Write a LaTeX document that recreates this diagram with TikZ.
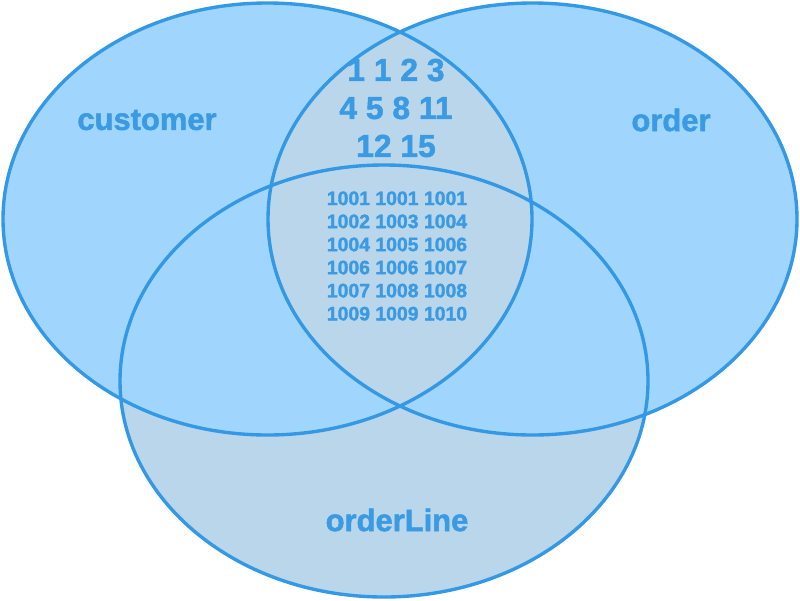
\documentclass[tikz,border=0pt]{standalone}
\usepackage{fontspec}
\setmainfont{Liberation Sans}
\newfontfamily\heavyfont{Liberation Sans Bold}[FakeBold=1.6]

\definecolor{vennfill}{HTML}{A0D6FE}
\definecolor{venngrey}{HTML}{BAD6EA}
\definecolor{vennline}{HTML}{3398E5}
\definecolor{venntext}{HTML}{3A9AE3}

\begin{document}
\begin{tikzpicture}[x=0.025cm, y=-0.025cm,
			rim/.style={draw=vennline, line width=2.4pt},
			setname/.style={text=venntext, inner sep=0pt, font=\heavyfont\fontsize{22}{27}\selectfont},
			keys/.style={text=venntext, inner sep=0pt, align=center, font=\heavyfont\fontsize{22.6}{27}\selectfont},
			ids/.style={text=venntext, inner sep=0pt, align=center, font=\heavyfont\fontsize{13.8}{16.4}\selectfont}]
			\useasboundingbox (0,0) rectangle (800,600);
			
			\fill[venngrey] (384,381) ellipse [x radius=264, y radius=216];
			\fill[vennfill] (267.5,219) ellipse [x radius=264.5, y radius=216];
			\fill[vennfill] (532.5,219) ellipse [x radius=264.5, y radius=216];
			\begin{scope}
				\clip (267.5,219) ellipse [x radius=264.5, y radius=216];
				\fill[venngrey] (532.5,219) ellipse [x radius=264.5, y radius=216];
			\end{scope}
			
			\draw[rim] (267.5,219) ellipse [x radius=264.5, y radius=216];
			\draw[rim] (532.5,219) ellipse [x radius=264.5, y radius=216];
			\draw[rim] (384,381) ellipse [x radius=264, y radius=216];
			
			\node[setname](customer) at (147,120) {customer};
			\node[setname](order) at (671,120) {order};
			\node[setname](orderline) at (397,520) {orderLine};
			
			\node[keys](custkeys) at (396,108) {1 1 2 3\\4 5 8 11\\12 15};
			\node[ids](orderids) at (397,256) {1001 1001 1001\\1002 1003 1004\\1004 1005 1006\\1006 1006 1007\\1007 1008 1008\\1009 1009 1010};
		\end{tikzpicture}
\end{document}
